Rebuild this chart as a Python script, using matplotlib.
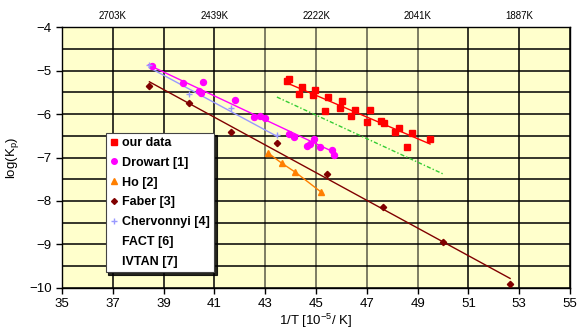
import matplotlib
matplotlib.use("Agg")
import matplotlib.pyplot as plt
from matplotlib.lines import Line2D
import numpy as np

plt.rcParams["font.family"] = ["Liberation Sans", "DejaVu Sans"]
plt.rcParams["mathtext.default"] = "regular"

# --- data (x = 1/T [1e-5/K], y = log(Kp)) ---
our_x = [43.87, 43.94, 44.46, 44.32, 44.97, 44.89, 45.47, 45.37, 46.01, 45.96,
         46.54, 46.39, 47.13, 47.00, 47.55, 47.67, 48.27, 48.11, 48.78, 48.57, 49.49]
our_y = [-5.23, -5.20, -5.39, -5.53, -5.44, -5.57, -5.62, -5.92, -5.71, -5.87,
         -5.90, -6.05, -5.91, -6.19, -6.16, -6.20, -6.33, -6.41, -6.44, -6.75, -6.57]
our_fit_x = [43.87, 49.49]
our_fit_y = [-5.29, -6.69]

drowart_x = [38.53, 39.78, 40.56, 40.39, 40.46, 41.82, 42.56, 42.81, 42.99,
             43.95, 44.15, 44.93, 44.63, 44.76, 45.17, 45.63, 45.70]
drowart_y = [-4.90, -5.29, -5.27, -5.47, -5.52, -5.67, -6.08, -6.05, -6.09,
             -6.46, -6.53, -6.57, -6.73, -6.68, -6.77, -6.83, -6.94]
drowart_fit_x = [38.40, 45.68]
drowart_fit_y = [-4.87, -6.87]

ho_x = [43.12, 43.65, 44.19, 45.19]
ho_y = [-6.90, -7.13, -7.34, -7.79]

faber_x = [38.44, 40.00, 41.65, 43.46, 45.44, 47.63, 50.00, 52.64]
faber_y = [-5.36, -5.75, -6.41, -6.67, -7.37, -8.14, -8.94, -9.90]
faber_fit_x = [38.44, 52.64]
faber_fit_y = [-5.26, -9.78]

cherv_x = [38.43, 40.00, 41.65, 43.45]
cherv_y = [-4.88, -5.55, -5.87, -6.48]
cherv_fit_x = [38.43, 43.45]
cherv_fit_y = [-4.93, -6.51]

fact_x = [43.46, 50.01]
fact_y = [-5.61, -7.38]

top_temps = [2703, 2439, 2222, 2041, 1887]

fig = plt.figure(figsize=(5.78, 3.36), dpi=100)
ax = fig.add_axes([0.1073, 0.1429, 0.8789, 0.7767])
ax.set_facecolor("#FFFFCC")

ax.set_xlim(35, 55)
ax.set_ylim(-10, -4)
ax.set_xticks(np.arange(35, 56, 2))
ax.set_yticks(np.arange(-10, -3.9, 1))
ax.set_yticks(np.arange(-10, -3.9, 0.5), minor=True)
ax.tick_params(axis="y", which="minor", length=0)
ax.tick_params(labelsize=9.5, length=4, width=1, color="black")
ax.grid(True, which="both", color="black", linewidth=1.1)
ax.set_axisbelow(True)
for gl, val in zip(ax.get_xgridlines(), ax.get_xticks()):
    if 43 <= val <= 49:
        gl.set_color("#5a5a48")
for s in ax.spines.values():
    s.set_color("black")
    s.set_linewidth(1)

# fits
ax.plot(our_fit_x, our_fit_y, color="#ff0000", lw=1)
ax.plot(drowart_fit_x, drowart_fit_y, color="#ff00ff", lw=1)
ax.plot(cherv_fit_x, cherv_fit_y, color="#9999ff", lw=1)
ax.plot(faber_fit_x, faber_fit_y, color="#800000", lw=1)
ax.plot(fact_x, fact_y, color="#33cc33", lw=1, linestyle=(0, (3, 1.5, 1, 1.5)))

# data points
ax.plot(our_x, our_y, "s", color="#ff0000", ms=4.7, mec="#ff0000")
ax.plot(drowart_x, drowart_y, "o", color="#ff00ff", ms=4.3)
ax.plot(ho_x, ho_y, "^-", color="#ff7f00", ms=4.5, lw=1)
ax.plot(faber_x, faber_y, "D", color="#800000", ms=3.2)
ax.plot(cherv_x, cherv_y, "+", color="#9999ff", ms=5, mew=1)

ax.set_ylabel(r"log(K$_{p}$)", fontsize=9.5, labelpad=6)
ax.set_xlabel(r"1/T [10$^{-5}$/ K]", fontsize=9.5, labelpad=1)

# top temperature axis
top = ax.twiny()
top.set_xlim(ax.get_xlim())
top.set_xticks([1e5 / t for t in top_temps])
top.set_xticklabels([f"{t}K" for t in top_temps])
top.tick_params(length=0, labelsize=7, pad=4)
for s in top.spines.values():
    s.set_visible(False)

handles = [
    Line2D([], [], marker="s", color="#ff0000", ls="none", ms=4),
    Line2D([], [], marker="o", color="#ff00ff", ls="none", ms=4),
    Line2D([], [], marker="^", color="#ff7f00", ls="none", ms=4),
    Line2D([], [], marker="D", color="#800000", ls="none", ms=3),
    Line2D([], [], marker="+", color="#9999ff", ls="none", ms=5),
    Line2D([], [], ls="none"),
    Line2D([], [], ls="none"),
]
labels = ["our data", "Drowart [1]", "Ho [2]", "Faber [3]",
          "Chervonnyi [4]", "FACT [6]", "IVTAN [7]"]
leg = ax.legend(handles, labels, loc="upper left", bbox_to_anchor=(0.086, 0.595),
                borderaxespad=0, fancybox=False, framealpha=1, edgecolor="#444444",
                prop={"weight": "bold", "size": 9}, handlelength=0.6,
                handletextpad=0.35, borderpad=0.35, labelspacing=0.62,
                shadow={"color": "black", "alpha": 0.85})
leg.get_frame().set_linewidth(0.8)

fig.savefig("out.png", dpi=100)
